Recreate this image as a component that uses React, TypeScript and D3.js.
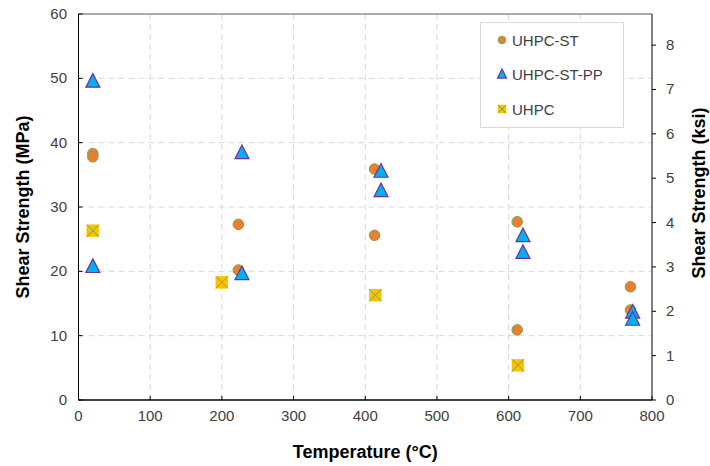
import React from "react";
import * as d3 from "d3";

const stTemp = [20, 20, 223, 223, 413, 413, 612, 612, 770, 770];
const stShear = [38.3, 37.8, 27.3, 20.2, 35.9, 25.6, 27.7, 10.9, 17.6, 14.0];

const ppTemp = [20, 20, 228, 228, 422, 422, 620, 620, 773, 773];
const ppShear = [49.6, 20.8, 38.5, 19.7, 35.6, 32.6, 25.6, 23.0, 13.7, 12.6];

const uTemp = [20, 200, 414, 613];
const uShear = [26.3, 18.3, 16.3, 5.4];

const xTicks = [0, 100, 200, 300, 400, 500, 600, 700, 800];
const yTicks = [0, 10, 20, 30, 40, 50, 60];
const ksiTicks = [0, 1, 2, 3, 4, 5, 6, 7, 8];
const seriesNames = ["UHPC-ST", "UHPC-ST-PP", "UHPC"];

const W = 710, H = 466;
const L = 78.5, R = 652, T = 14, B = 400;
const FONT = "'Liberation Sans', Arial, sans-serif";

const circleFill = "#ED7D31", circleStroke = "#70AD47";
const triFill = "#00B0F0", triStroke = "#7030A0";
const sqFill = "#FFC000", sqStroke = "#70AD47";

function Circle({ x, y, r }: { x: number; y: number; r: number }) {
  return <circle cx={x} cy={y} r={r} fill={circleFill} stroke={circleStroke} strokeWidth={1} />;
}
function Tri({ x, y, s }: { x: number; y: number; s: number }) {
  const h = s * 0.9;
  const p = `M${x},${y - h / 2 - 1}L${x + s / 2},${y + h / 2}L${x - s / 2},${y + h / 2}Z`;
  return <path d={p} fill={triFill} stroke={triStroke} strokeWidth={1.2} strokeLinejoin="miter" />;
}
function Sq({ x, y, s }: { x: number; y: number; s: number }) {
  const h = s / 2;
  return (
    <g>
      <rect x={x - h} y={y - h} width={s} height={s} fill={sqFill} stroke={sqFill} strokeWidth={0.5} />
      <path d={`M${x - h},${y - h}L${x + h},${y + h}M${x + h},${y - h}L${x - h},${y + h}`} stroke={sqStroke} strokeWidth={1} />
    </g>
  );
}

export default function App() {
  const x = d3.scaleLinear().domain([0, 800]).range([L, R]);
  const y = d3.scaleLinear().domain([0, 60]).range([B, T]);
  const yk = d3.scaleLinear().domain([0, 60 / 6.895]).range([B, T]);

  return (
    <svg width={W} height={H} style={{ position: "absolute", left: 0, top: 0, background: "#fff" }} fontFamily={FONT}>
      {/* grid */}
      {xTicks.filter(t => t > 0 && t < 800).map(t => (
        <line key={"gx" + t} x1={x(t)} x2={x(t)} y1={T} y2={B} stroke="#d9d9d9" strokeWidth={1} strokeDasharray="6,4" />
      ))}
      {yTicks.filter(t => t > 0 && t < 60).map(t => (
        <line key={"gy" + t} x1={L} x2={R} y1={y(t)} y2={y(t)} stroke="#d9d9d9" strokeWidth={1} strokeDasharray="6,4" />
      ))}
      {/* frame */}
      <line x1={L} x2={R} y1={T} y2={T} stroke="#595959" strokeWidth={1} />
      <line x1={L} x2={L} y1={T} y2={B} stroke="#000" strokeWidth={1} />
      <line x1={R} x2={R} y1={T} y2={B} stroke="#000" strokeWidth={1} />
      <line x1={L} x2={R} y1={B} y2={B} stroke="#000" strokeWidth={1.3} />
      {/* ticks */}
      {xTicks.map(t => (
        <g key={"xt" + t}>
          <line x1={x(t)} x2={x(t)} y1={B} y2={B - 4} stroke="#000" />
          <text x={x(t)} y={421} textAnchor="middle" fontSize={15} fill="#404040">{t}</text>
        </g>
      ))}
      {yTicks.map(t => (
        <g key={"yt" + t}>
          <line x1={L} x2={L + 4} y1={y(t)} y2={y(t)} stroke="#000" />
          <text x={67} y={y(t) + 5} textAnchor="end" fontSize={15} fill="#404040">{t}</text>
        </g>
      ))}
      {ksiTicks.map(t => (
        <g key={"kt" + t}>
          <line x1={R} x2={R + 4} y1={yk(t)} y2={yk(t)} stroke="#000" />
          <text x={666} y={yk(t) + 5} textAnchor="start" fontSize={15} fill="#404040">{t}</text>
        </g>
      ))}
      {/* titles */}
      <text x={(L + R) / 2} y={458} textAnchor="middle" fontSize={18} fontWeight="bold" fill="#000">Temperature (°C)</text>
      <text transform={`translate(29,${(T + B) / 2}) rotate(-90)`} textAnchor="middle" fontSize={18} fontWeight="bold" fill="#000">Shear Strength (MPa)</text>
      <text transform={`translate(705,193) rotate(-90)`} textAnchor="middle" fontSize={18} fontWeight="bold" fill="#000">Shear Strength (ksi)</text>
      {/* data */}
      {stTemp.map((t, i) => <Circle key={"c" + i} x={x(t)} y={y(stShear[i])} r={5.3} />)}
      {ppTemp.map((t, i) => <Tri key={"t" + i} x={x(t)} y={y(ppShear[i])} s={14} />)}
      {uTemp.map((t, i) => <Sq key={"s" + i} x={x(t)} y={y(uShear[i])} s={12} />)}
      {/* legend */}
      <rect x={480.5} y={22.5} width={143} height={105} fill="#fff" stroke="#d9d9d9" strokeWidth={1} />
      <Circle x={502} y={40} r={3.8} />
      <text x={512} y={45.5} fontSize={15} fill="#404040">{seriesNames[0]}</text>
      <Tri x={502} y={74} s={9} />
      <text x={512} y={79.5} fontSize={15} fill="#404040">{seriesNames[1]}</text>
      <Sq x={502} y={109} s={8} />
      <text x={512} y={114.5} fontSize={15} fill="#404040">{seriesNames[2]}</text>
    </svg>
  );
}
